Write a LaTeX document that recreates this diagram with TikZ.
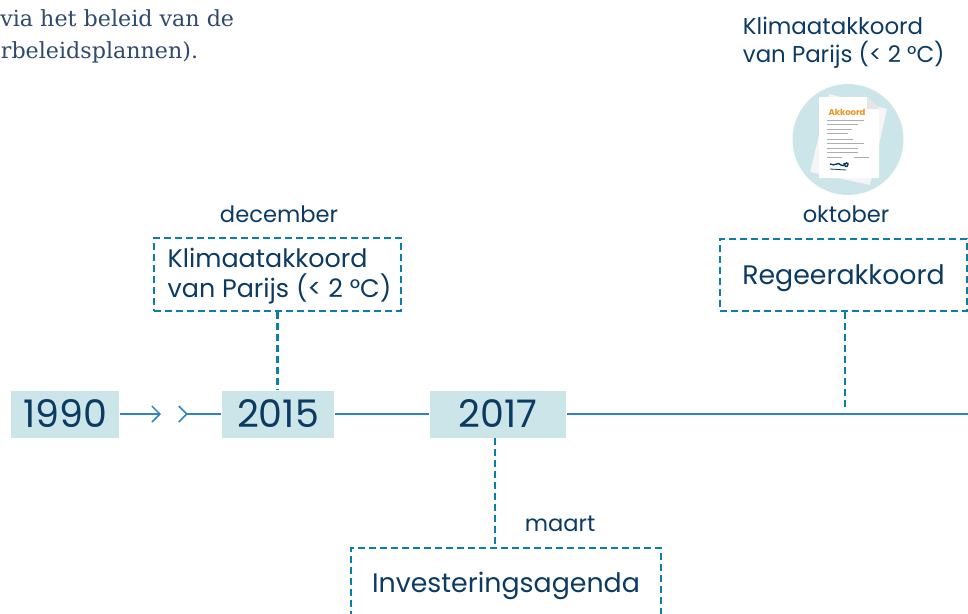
\documentclass[tikz,border=0pt]{standalone}
\usepackage{fontspec}
\setmainfont{Poppins}
\newfontfamily\slabfont{DejaVu Serif}
\usetikzlibrary{positioning,calc,arrows.meta}
\definecolor{inkblue}{HTML}{0B3A63}
\definecolor{dashblue}{HTML}{0A80A6}
\definecolor{axisblue}{HTML}{2F83C4}
\definecolor{paleteal}{HTML}{CBE5E9}
\definecolor{proseblue}{HTML}{2F4A6D}
\tikzset{
every picture/.style={
line width=1.8pt
},
barb/.tip = {Straight Barb[length=8pt, width=16pt, line width=1.5pt]}}

\begin{document}
\begin{tikzpicture}[x=1pt, y=-1pt,
year/.style = {rectangle, fill=paleteal, text=inkblue, inner sep=0pt, font=\fontsize{38}{38}\selectfont},
event/.style = {rectangle, draw=dashblue, dash pattern=on 7pt off 4pt, line width=2.5pt, text=inkblue, inner sep=0pt, align=left, font=\fontsize{26.8}{30}\selectfont},
month/.style = {text=inkblue, inner sep=0pt, font=\fontsize{22.6}{22.6}\selectfont},
prose/.style = {text=proseblue, inner sep=0pt, anchor=base east, font=\slabfont\fontsize{22.2}{22.2}\selectfont},
axis/.style = {draw=axisblue, line width=2pt},
stem/.style = {draw=dashblue, dash pattern=on 7pt off 4pt, line width=2.5pt},
rule/.style = {draw=black!32, line width=1pt}]
\clip (0,0) rectangle (968,613);

\node[prose] at (235,26) (prose1) {via het beleid van de};
\node[prose] at (199,58) (prose2) {rbeleidsplannen).};

\node[year, minimum width=108pt, minimum height=47pt] at (65,414) (y1990) {1990};
\node[year, minimum width=112pt, minimum height=47pt] at (278,414) (y2015) {2015};
\node[year, minimum width=136pt, minimum height=47pt] at (498,414) (y2017) {2017};
\coordinate (gapa) at (161,414);
\coordinate (gapb) at (178,414);
\coordinate (axisend) at (968,414);

\node[event, minimum width=247pt, minimum height=73pt, font=\fontsize{25.4}{30}\selectfont] at (277.5,274.5) (parijs) {\hspace*{4pt}\rule{0pt}{22pt}Klimaatakkoord\\\hspace*{4pt}van Parijs (< 2 °C)};
\node[event, minimum width=247pt, minimum height=72pt, text height=18pt, text depth=0pt] at (843.5,275) (regeer) {Regeerakkoord};
\node[event, minimum width=310pt, minimum height=76pt, text height=12pt, text depth=0pt] at (506,586) (invest) {Investeringsagenda};

\node[month] at (279,214) (dec) {december};
\node[month] at (846,214) (okt) {oktober};
\node[month] at (560,524) (mrt) {maart};

\draw[axis, -{barb}] (y1990) -- (gapa);
\draw[axis, {barb[reversed]}-] (gapb) -- (y2015);
\draw[axis] (y2015) -- (y2017);
\draw[axis] (y2017) -- (axisend);

\coordinate (regeerend) at (845,407);
\coordinate (investtop) at (495,548);
\draw[stem] (parijs.south) -- (parijs.south |- y2015.north);
\draw[stem] (regeerend |- regeer.south) -- (regeerend);
\draw[stem] (investtop |- y2017.south) -- (investtop);

% top right document
\node[text=inkblue, inner sep=0pt, align=left, anchor=north west, font=\fontsize{22.9}{28}\selectfont] at (742,16) (title) {Klimaatakkoord\\van Parijs (< 2 °C)};
\node[circle, fill=paleteal, minimum size=111pt, inner sep=0pt] at (848,139.5) (badge) {};
\fill[black!4] (829,94) -- (887,109) -- (870,185) -- (810,172) -- cycle;
\fill[white] (819,97) -- (867,97) -- (879,109) -- (879,178) -- (819,178) -- cycle;
\fill[black!10] (867,97) -- (879,109) -- (867,109) -- cycle;
\node[text={rgb,255:red,240;green,146;blue,30}, inner sep=0pt, font=\fontsize{8.5}{8.5}\bfseries\selectfont] at (847,112) (akk) {Akkoord};
\foreach \ya/\xb in {120/864,124/858,129.5/852,133/848,139/853,143/864,148/858,152/858,157.7/842}
  \draw[rule] (827,\ya) -- (\xb,\ya);
\draw[rule] (854,157.7) -- (869,157.7);
\draw[draw=inkblue, line width=1.4pt] (830,164) .. controls (835,167) and (838,161) .. (841,165) .. controls (844,168) and (846,160) .. (848,164) .. controls (848,168) and (844,167) .. (844,163);
\draw[draw=inkblue, line width=0.8pt] (830,169) -- (846,170);
\end{tikzpicture}
\end{document}
